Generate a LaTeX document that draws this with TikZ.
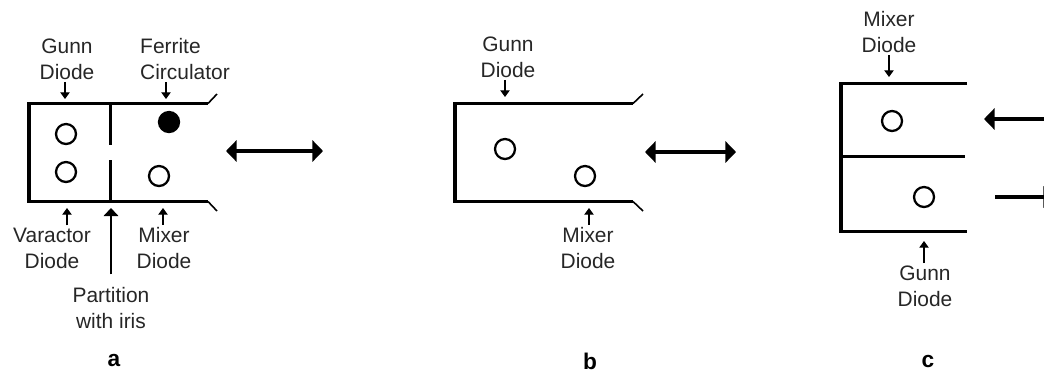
\documentclass[tikz,border=0pt]{standalone}
\usepackage{fontspec}
\setmainfont{Liberation Sans}
\usetikzlibrary{arrows.meta}
\tikzset{
  wall/.style={line width=2.3pt,line cap=butt,line join=miter},
  thinwall/.style={line width=1.9pt},
  flare/.style={line width=1.2pt},
  diode/.style={circle,draw=black,line width=1.7pt,minimum size=15pt,inner sep=0pt},
  diodefill/.style={diode,fill=black},
  lbl/.style={align=center,inner sep=0pt,outer sep=1.8pt,text=black!85,font=\fontsize{15.7}{19.5}\selectfont},
  panel/.style={inner sep=0pt,font=\fontsize{17}{20}\selectfont\bfseries},
  small/.style={line width=0.9pt,-{Triangle[length=5pt,width=7pt]}},
  pointer/.style={line width=0.9pt,shorten <=8pt,-{Triangle[length=6pt,width=11pt]}},
  big/.style={line width=2.6pt,{Triangle[length=8pt,width=16pt]}-{Triangle[length=8pt,width=16pt]}},
  bigone/.style={line width=2.6pt,-{Triangle[length=8pt,width=16pt]}},
}
\begin{document}
\begin{tikzpicture}[x=0.75pt,y=-0.75pt]
\useasboundingbox (0,0) rectangle (1044,372);
\clip (0,0) rectangle (1044,372);
% panel a
\draw[wall] (208,103.5) -- (29,103.5) -- (29,201.5) -- (208,201.5);
\draw[flare] (208,103.5) -- (217,94);
\draw[flare] (208,201.5) -- (217,211);
\draw[wall] (110.5,103.5) -- (110.5,145);
\draw[wall] (110.5,160) -- (110.5,201.5);
\node[diode] (a1) at (66,134) {};
\node[diode] (a2) at (66,172) {};
\node[diodefill] (a3) at (169,122) {};
\node[diode] (a4) at (159,176) {};
\coordinate (aL) at (226,151);
\coordinate (aR) at (323,151);
\draw[big] (aL) -- (aR);
\node[lbl] (la1) at (67,59) {Gunn\\Diode};
\node[lbl,align=left] (la2) at (185,59) {Ferrite\\Circulator};
\node[lbl] (la3) at (52,248) {Varactor\\Diode};
\node[lbl] (la4) at (111,308) {Partition\\with iris};
\node[lbl] (la5) at (164,248) {Mixer\\Diode};
\coordinate (ta1) at (65,99);
\coordinate (ta2) at (166,99);
\coordinate (ta3) at (67,208);
\coordinate (ta4) at (111,208);
\coordinate (ta5) at (163,208);
\draw[small] (la1.south -| ta1) -- (ta1);
\draw[small] (la2.south -| ta2) -- (ta2);
\draw[small] (la3.north -| ta3) -- (ta3);
\draw[pointer] (la4.north -| ta4) -- (ta4);
\draw[small] (la5.north -| ta5) -- (ta5);
\node[panel] (pa) at (114,361) {a};
% panel b
\draw[wall] (633,103.5) -- (455,103.5) -- (455,201.5) -- (633,201.5);
\draw[flare] (633,103.5) -- (643,94);
\draw[flare] (633,201.5) -- (643,211);
\node[diode] (b1) at (505,149) {};
\node[diode] (b2) at (585,176) {};
\coordinate (bL) at (645,152);
\coordinate (bR) at (736,152);
\draw[big] (bL) -- (bR);
\node[lbl] (lb1) at (508,57) {Gunn\\Diode};
\node[lbl] (lb2) at (588,248) {Mixer\\Diode};
\coordinate (tb1) at (505,97);
\coordinate (tb2) at (589,208);
\draw[small] (lb1.south -| tb1) -- (tb1);
\draw[small] (lb2.north -| tb2) -- (tb2);
\node[panel] (pb) at (590,361) {b};
% panel c
\draw[wall] (967,83.5) -- (841,83.5) -- (841,231.5) -- (967,231.5);
\draw[thinwall] (841,156.5) -- (965,156.5);
\node[diode] (c1) at (892,121) {};
\node[diode] (c2) at (924,197) {};
\coordinate (cA) at (1044,119);
\coordinate (cB) at (984,119);
\coordinate (cC) at (995,197);
\coordinate (cD) at (1054,197);
\draw[bigone] (cA) -- (cB);
\draw[bigone] (cC) -- (cD);
\node[lbl] (lc1) at (889,32) {Mixer\\Diode};
\node[lbl] (lc2) at (925,286) {Gunn\\Diode};
\coordinate (tc1) at (889,77);
\coordinate (tc2) at (924,241);
\draw[small] (lc1.south -| tc1) -- (tc1);
\draw[small] (lc2.north -| tc2) -- (tc2);
\node[panel] (pc) at (928,362) {c};
\end{tikzpicture}
\end{document}
